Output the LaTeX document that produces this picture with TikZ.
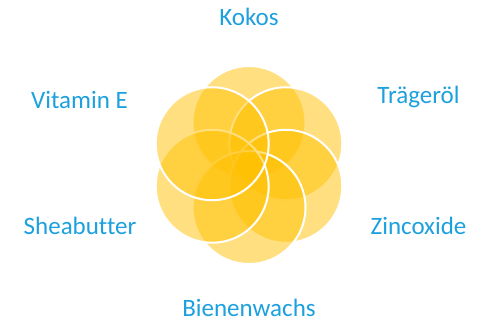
\documentclass[tikz,border=0pt]{standalone}
\usepackage{fontspec}
\setmainfont{Carlito}[Ligatures=NoCommon]
\usetikzlibrary{calc}
\definecolor{ringfill}{RGB}{255,192,0}
\definecolor{labelblue}{RGB}{28,160,222}
\begin{document}
\begin{tikzpicture}[x=1pt,y=-1pt,
  ring/.style={fill=ringfill, fill opacity=0.5, draw=white, draw opacity=1, line width=2pt},
  lbl/.style={text=labelblue, font=\fontsize{25}{30}\selectfont, anchor=base, inner sep=0pt}]
\useasboundingbox (0,0) rectangle (480,323);
\coordinate (c) at (249,165);
% six rings around the centre, drawn clockwise from the top
\foreach \ang/\nm in {90/top, 30/ur, -30/lr, -90/bot, -150/ll, 150/ul}{
  \path[ring] ($(c)+(\ang:42.5 and -42.5)$) circle[radius=56.5];
}
\node[lbl] (kokos) at (249,26) {Kokos};
\node[lbl] (vit) at (79.5,109) {Vitamin E};
\node[lbl] (traeger) at (418.5,104) {Trägeröl};
\node[lbl] (shea) at (80,235) {Sheabutter};
\node[lbl] (zinc) at (418.5,235) {Zincoxide};
\node[lbl] (wachs) at (249,317) {Bienenwachs};
\end{tikzpicture}
\end{document}
